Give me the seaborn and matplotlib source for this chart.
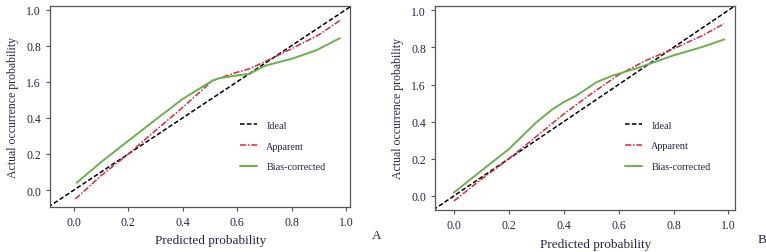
import numpy as np
import pandas as pd
import seaborn as sns
import matplotlib.pyplot as plt

# panel A
a_app_x = [0.005, 0.1, 0.2, 0.3, 0.4, 0.51, 0.6, 0.645, 0.7, 0.8, 0.9, 0.978]
a_app_y = [-0.05, 0.08, 0.2, 0.33, 0.458, 0.607, 0.653, 0.672, 0.71, 0.783, 0.86, 0.94]
a_bias_x = [0.01, 0.1, 0.2, 0.3, 0.4, 0.51, 0.535, 0.6, 0.645, 0.705, 0.8, 0.89, 0.978]
a_bias_y = [0.04, 0.155, 0.273, 0.39, 0.505, 0.607, 0.62, 0.635, 0.644, 0.69, 0.727, 0.774, 0.842]

# panel B
b_app_x = [0.0, 0.1, 0.2, 0.3, 0.4, 0.5, 0.6, 0.7, 0.8, 0.9, 0.985]
b_app_y = [-0.027, 0.09, 0.2, 0.32, 0.441, 0.55, 0.652, 0.73, 0.793, 0.86, 0.928]
b_bias_x = [0.0, 0.107, 0.2, 0.3, 0.36, 0.4, 0.447, 0.52, 0.58, 0.6, 0.679, 0.8, 0.9, 0.985]
b_bias_y = [0.018, 0.144, 0.252, 0.396, 0.468, 0.505, 0.541, 0.613, 0.649, 0.658, 0.694, 0.757, 0.8, 0.843]

tick_vals = [0.0, 0.2, 0.4, 0.6, 0.8, 1.0]
x_labels = ['0.0', '0.2', '0.4', '0.6', '0.8', '1.0']
y_labels = ['0.0', '0.2', '0.4', '1.6', '0.8', '1.0']

sns.set_style('ticks')
plt.rcParams['font.family'] = ['Liberation Serif', 'DejaVu Serif']
txt = '#262645'

fig = plt.figure(figsize=(7.66, 2.53), dpi=100)
ax1 = fig.add_axes([50 / 766, 1 - 208 / 253, 300 / 766, 201 / 253])
ax2 = fig.add_axes([435 / 766, 1 - 211 / 253, 300 / 766, 204 / 253])

panels = [
    (ax1, a_app_x, a_app_y, a_bias_x, a_bias_y, (-0.088, 1.015), (-0.094, 1.02), 'A', 0.303),
    (ax2, b_app_x, b_app_y, b_bias_x, b_bias_y, (-0.069, 1.024), (-0.076, 1.023), 'B', 0.314),
]

for ax, ax_x, ax_y, bx, by, xl, yl, tag, leg_y in panels:
    ideal = np.array([-0.2, 1.1])
    sns.lineplot(x=ideal, y=ideal, ax=ax, color='black', lw=1.1,
                 linestyle=(0, (3, 1.5)), label='Ideal')
    sns.lineplot(x=ax_x, y=ax_y, ax=ax, color='#d8283c', lw=1.1,
                 linestyle=(0, (4, 1.2, 1, 1.2)), label='Apparent', sort=False)
    sns.lineplot(x=bx, y=by, ax=ax, color='#6ab04c', lw=1.4,
                 label='Bias-corrected', sort=False)
    ax.set_xlim(*xl)
    ax.set_ylim(*yl)
    ax.set_xticks(tick_vals)
    ax.set_xticklabels(x_labels)
    ax.set_yticks(tick_vals)
    ax.set_yticklabels(y_labels)
    ax.tick_params(labelsize=8.5, colors='#555555', labelcolor=txt, length=3, width=0.8)
    for s in ax.spines.values():
        s.set_visible(True)
        s.set_color('#555555')
        s.set_linewidth(0.9)
    ax.set_xlabel('Predicted probability', fontsize=9.5, color=txt, labelpad=4)
    ax.xaxis.set_label_coords(0.535, -0.135)
    ax.set_ylabel('Actual occurrence probability', fontsize=8.5, color=txt, labelpad=5)
    ax.legend(loc='center left', bbox_to_anchor=(0.633, leg_y), frameon=False,
              fontsize=7.3, handlelength=1.7, handletextpad=0.9, labelspacing=1.15,
              borderpad=0, borderaxespad=0, labelcolor=txt)
    ax.text(1.09, -0.14, tag, transform=ax.transAxes, fontsize=9.5, color=txt,
            ha='center', va='center')

fig.savefig('out.png', dpi=100)
